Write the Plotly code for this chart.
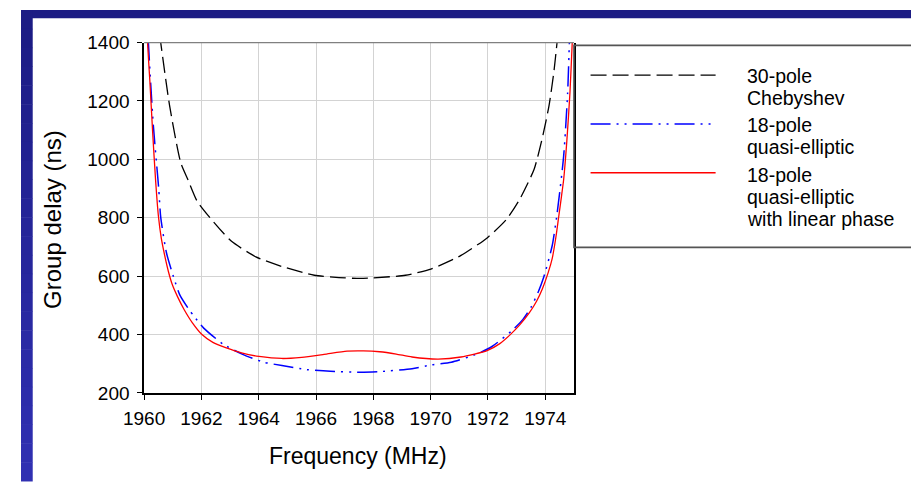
import plotly.graph_objects as go

# ---------------- data ----------------
freq_cheb = [1960.45, 1960.58, 1960.89, 1961.28, 1961.54, 1961.85, 1962.42, 1963.04, 1963.9,
             1964.81, 1965.94, 1966.8, 1967.54, 1968.0, 1969.12, 1970.03, 1971.06, 1971.97,
             1972.65, 1973.1, 1973.61, 1973.9, 1974.13, 1974.3, 1974.41, 1974.5]
delay_cheb = [1500, 1400, 1184, 988, 928, 857, 786, 720, 666,
              633, 603, 595, 592, 594, 603, 625, 671, 731,
              795, 862, 966, 1075, 1184, 1300, 1400, 1490]

freq_qe = [1960.10, 1960.15, 1960.32, 1960.51, 1960.58, 1960.78, 1961.05, 1961.25, 1961.57,
           1961.74, 1962.08, 1962.76, 1963.44, 1964.18, 1964.81, 1965.66, 1966.5, 1967.54,
           1968.22, 1969.35, 1970.03, 1970.72, 1971.63, 1972.14, 1972.82, 1973.22, 1973.5,
           1973.75, 1973.95, 1974.24, 1974.41, 1974.64, 1974.78, 1974.84, 1974.88]
delay_qe = [1550, 1400, 1119, 900, 802, 680, 590, 535, 485,
            463, 422, 367, 332, 305, 294, 280, 274, 271,
            273, 283, 296, 305, 334, 359, 412, 452, 493,
            545, 598, 704, 813, 1010, 1228, 1400, 1520]

freq_lin = [1960.08, 1960.12, 1960.2, 1960.3, 1960.4, 1960.5, 1960.6, 1960.72, 1960.85,
            1960.98, 1961.17, 1961.4, 1961.68, 1962.02, 1962.4, 1962.87, 1963.4, 1964.01,
            1964.81, 1965.5, 1966.28, 1967.08, 1967.65, 1968.22, 1968.8, 1969.35, 1970.26,
            1971.06, 1971.97, 1972.4, 1972.76, 1973.1, 1973.44, 1973.7, 1973.9, 1974.1,
            1974.24, 1974.38, 1974.47, 1974.56, 1974.64, 1974.75, 1974.86, 1974.94, 1974.98]
delay_lin = [1520, 1400, 1270, 1090, 930, 805, 730, 670, 615,
             572, 529, 485, 441, 400, 373, 354, 337, 325,
             318, 322, 332, 343, 344, 341, 333, 323, 316,
             323, 345, 368, 398, 432, 474, 515, 557, 612,
             660, 740, 805, 870, 930, 1060, 1228, 1400, 1500]

series_names = ["30-pole<br>Chebyshev", "18-pole<br>quasi-elliptic",
                "18-pole<br>quasi-elliptic<br>with linear phase"]
legend_lines = [["30-pole", "Chebyshev"],
                ["18-pole", "quasi-elliptic"],
                ["18-pole", "quasi-elliptic", "with linear phase"]]
x_ticks = [1960, 1962, 1964, 1966, 1968, 1970, 1972, 1974]
y_ticks = [200, 400, 600, 800, 1000, 1200, 1400]

# ---------------- styling ----------------
W, H = 911, 492
FONT = "Liberation Sans, Arial, sans-serif"
PL, PR, PT, PB = 126, 566, 34, 400  # plot area in pixels


def px(x):
    return x / W


def py(y):
    return (H - y) / H


dash_cheb = "16px,6px"
dash_qe = "20px,6px,2px,6px,2px,6px"

fig = go.Figure()
fig.add_trace(go.Scatter(x=freq_cheb, y=delay_cheb, mode="lines", name=series_names[0],
                         line=dict(color="black", width=1.3, dash=dash_cheb, shape="spline", smoothing=0.6)))
fig.add_trace(go.Scatter(x=freq_qe, y=delay_qe, mode="lines", name=series_names[1],
                         line=dict(color="#0000ff", width=1.5, dash=dash_qe, shape="spline", smoothing=0.6)))
fig.add_trace(go.Scatter(x=freq_lin, y=delay_lin, mode="lines", name=series_names[2],
                         line=dict(color="#ff0000", width=1.3, shape="spline", smoothing=0.6)))

shapes = []
# blue slide frame
shapes.append(dict(type="rect", xref="paper", yref="paper", x0=0, x1=1, y0=py(8.7), y1=1,
                   fillcolor="#1c1c84", line=dict(width=0), layer="above"))
n = 25
for i in range(n):
    t = i / (n - 1)
    r = int(28 + (48 - 28) * t)
    b = int(132 + (178 - 132) * t)
    y0 = i * H / n
    y1 = (i + 1) * H / n + 0.5
    shapes.append(dict(type="rect", xref="paper", yref="paper", x0=0, x1=px(12),
                       y0=py(y1), y1=py(y0),
                       fillcolor="rgb(%d,%d,%d)" % (r, r, b), line=dict(width=0), layer="above"))
# top border of plot
shapes.append(dict(type="line", xref="paper", yref="paper", x0=px(PL), x1=px(PR), y0=py(PT), y1=py(PT),
                   line=dict(color="#808080", width=1.2)))
# legend box
shapes.append(dict(type="rect", xref="paper", yref="paper", x0=px(PR), x1=px(W + 5), y0=py(248), y1=py(37),
                   line=dict(color="#555555", width=1.6), fillcolor="rgba(0,0,0,0)"))
# legend samples
sample_y = [68, 119, 170]
sample_style = [dict(color="black", width=1.3, dash=dash_cheb),
                dict(color="#0000ff", width=1.5, dash=dash_qe),
                dict(color="#ff0000", width=1.3)]
for yy, st in zip(sample_y, sample_style):
    shapes.append(dict(type="line", xref="paper", yref="paper", x0=px(583), x1=px(711),
                       y0=py(yy), y1=py(yy), line=st))

annotations = []
text_y = [[69, 92], [120, 143], [172, 195, 218]]
for lines, ys in zip(legend_lines, text_y):
    for txt, yy in zip(lines, ys):
        annotations.append(dict(text=txt, xref="paper", yref="paper", x=px(741), y=py(yy),
                                xanchor="left", yanchor="middle", showarrow=False,
                                font=dict(family=FONT, size=19.5, color="black")))
# axis titles
annotations.append(dict(text="Frequency (MHz)", xref="paper", yref="paper", x=px(345), y=py(466),
                        xanchor="center", yanchor="middle", showarrow=False,
                        font=dict(family=FONT, size=23, color="black")))
annotations.append(dict(text="Group delay (ns)", xref="paper", yref="paper", x=px(32), y=py(219),
                        xanchor="center", yanchor="middle", showarrow=False, textangle=-90,
                        font=dict(family=FONT, size=24, color="black")))

fig.update_layout(
    width=W, height=H,
    margin=dict(l=0, r=0, t=0, b=0),
    paper_bgcolor="white", plot_bgcolor="white",
    showlegend=False,
    font=dict(family=FONT, size=19, color="black"),
    shapes=shapes, annotations=annotations,
    xaxis=dict(domain=[px(PL), px(PR)], range=[1960, 1975], tickvals=x_ticks,
               showgrid=True, gridcolor="#d3d3d3", gridwidth=1,
               showline=True, linecolor="black", linewidth=1.5, mirror=False,
               ticks="outside", ticklen=5, tickcolor="black", tickwidth=1.2,
               zeroline=False, ticklabelstandoff=3,
               tickfont=dict(family=FONT, size=19, color="black")),
    yaxis=dict(domain=[py(PB), py(PT)], range=[200, 1400], tickvals=y_ticks,
               showgrid=True, gridcolor="#d3d3d3", gridwidth=1,
               showline=True, linecolor="black", linewidth=1.5, mirror=True,
               ticks="outside", ticklen=5, tickcolor="black", tickwidth=1.2,
               zeroline=False, ticklabelstandoff=4,
               tickfont=dict(family=FONT, size=19, color="black")),
)

fig.write_html(
    "out.html",
    config={"displayModeBar": False},
    post_script="document.body.style.margin='0';document.body.style.overflow='hidden';",
)
